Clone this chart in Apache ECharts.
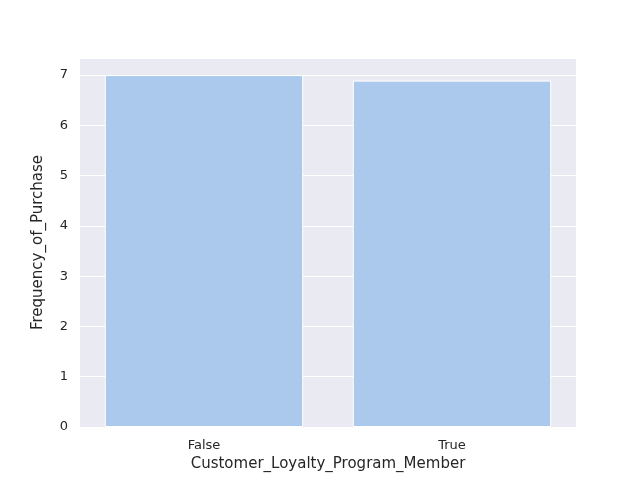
<!DOCTYPE html>
<html>
<head>
<meta charset="utf-8">
<script src="https://cdn.jsdelivr.net/npm/echarts@6/dist/echarts.min.js"></script>
<style>html,body{margin:0;padding:0;background:#fff}#chart{width:640px;height:480px}</style>
</head>
<body>
<div id="chart"></div>
<script>
var categories = ['False', 'True'];
var frequencyValues = [7.0, 6.89];
var yTicks = [0, 1, 2, 3, 4, 5, 6, 7];

var chart = echarts.init(document.getElementById('chart'));
chart.setOption({
    animation: false,
    textStyle: {fontFamily: 'DejaVu Sans'},
    grid: {left: 80, right: 64, top: 58, bottom: 53, show: true, backgroundColor: '#eaeaf2', borderWidth: 0},
    xAxis: {
        type: 'category',
        data: categories,
        name: 'Customer_Loyalty_Program_Member',
        nameLocation: 'middle',
        nameGap: 28,
        nameTextStyle: {color: '#262626', fontSize: 15},
        axisLine: {show: false},
        axisTick: {show: false},
        axisLabel: {color: '#262626', fontSize: 13, margin: 12},
        splitLine: {show: false}
    },
    yAxis: {
        type: 'value',
        min: 0,
        max: 7.34,
        interval: 1,
        name: 'Frequency_of_Purchase',
        nameLocation: 'middle',
        nameGap: 34,
        nameTextStyle: {color: '#262626', fontSize: 15},
        axisLine: {show: false},
        axisTick: {show: false},
        axisLabel: {color: '#262626', fontSize: 13, margin: 12,
            formatter: function (v) { return yTicks.indexOf(v) >= 0 ? String(v) : ''; }},
        splitLine: {lineStyle: {color: '#ffffff', width: 1}}
    },
    series: [{
        type: 'bar',
        data: frequencyValues,
        barWidth: '80%',
        itemStyle: {color: '#abc9ec', borderColor: '#ffffff', borderWidth: 1}
    }]
});
</script>
</body>
</html>
